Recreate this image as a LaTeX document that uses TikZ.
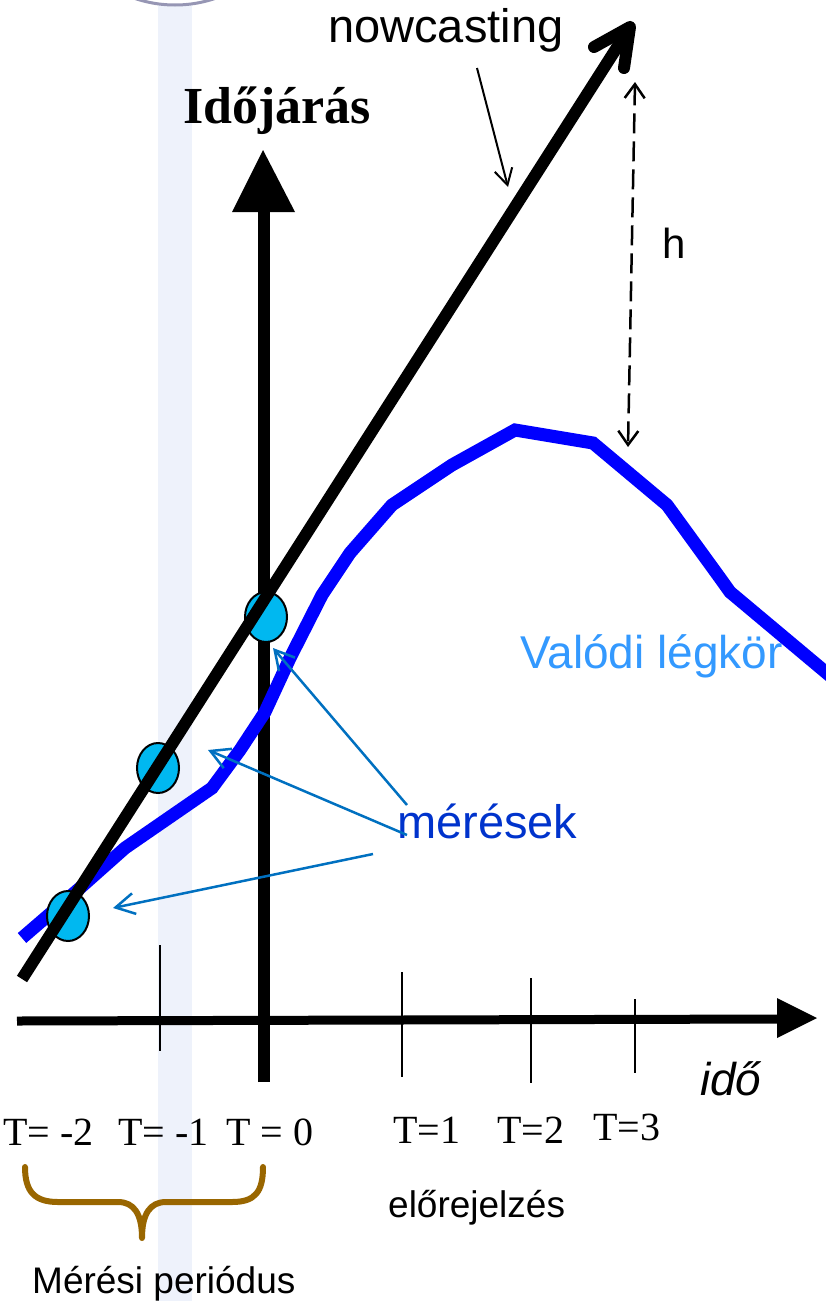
\documentclass[tikz,border=0pt]{standalone}
\usepackage{fontspec}
\setmainfont{Liberation Serif}
\setsansfont{Liberation Sans}
\usetikzlibrary{arrows.meta,shapes.geometric}
\definecolor{stripe}{RGB}{238,242,251}
\definecolor{arcgray}{RGB}{150,150,180}
\definecolor{curveblue}{RGB}{0,0,255}
\definecolor{dotcyan}{RGB}{0,184,240}
\definecolor{arrowblue}{RGB}{0,112,192}
\definecolor{meresblue}{RGB}{0,51,204}
\definecolor{valodiblue}{RGB}{51,153,255}
\definecolor{bracebrown}{RGB}{153,102,0}
\begin{document}
\begin{tikzpicture}[x=1pt,y=-1pt,
  lbl/.style={inner sep=0pt,anchor=base west},
  tlabel/.style={lbl,font=\fontsize{40}{44}\selectfont},
  tick/.style={line width=2pt},
  dotnode/.style={ellipse,draw=black,line width=2pt,fill=dotcyan,minimum width=42pt,minimum height=50pt,inner sep=0pt},
  measarrow/.style={line width=2.5pt,arrowblue,-{Straight Barb[length=19pt,width=21pt]}},
  bigline/.style={line width=12pt,line cap=round,line join=round}]
\useasboundingbox (0,0) rectangle (825,1301);
% background stripe and arc
\fill[stripe] (158,5) rectangle (192,1301);
\begin{scope}
  \clip (0,0) rectangle (825,1301);
  \draw[arcgray,line width=3pt] (175,-120) circle [radius=125pt];
\end{scope}
% ticks
\draw[tick] (160,945) -- (160,1051);
\draw[tick] (402,972) -- (402,1077);
\draw[tick] (531,978) -- (531,1083);
\draw[tick] (635,999) -- (635,1073);
% x axis
\coordinate (xs) at (17,1021);
\coordinate (xe) at (780,1019);
\coordinate (xtip) at (817,1018);
\draw[line width=9pt] (xs) -- (xe);
\fill (xtip) -- (777,1038) -- (777,998) -- cycle;
% y axis
\coordinate (ys) at (264,1082);
\coordinate (ye) at (264,205);
\coordinate (ytip) at (263,150);
\draw[line width=12pt] (ys) -- (ye);
\fill (ytip) -- (295,212) -- (232,212) -- cycle;
% texts under curve
\node[lbl,font=\sffamily\fontsize{46}{50}\selectfont,text=valodiblue] (valodi) at (520,668) {Valódi légkör};
% blue curve
\draw[curveblue,line width=13pt,line join=miter] (22,938) -- (80,888) -- (125,848) -- (212,788) -- (240,750) -- (265,712) -- (290,658) -- (322,595) -- (350,553) -- (392,505) -- (452,465) -- (515,430) -- (593,443) -- (667,505) -- (720,578) -- (730,592) -- (835,680);
% measurement dots
\node[dotnode] (d1) at (266,617) {};
\node[dotnode] (d2) at (158,768) {};
\node[dotnode] (d3) at (68,916) {};
% nowcasting line
\coordinate (ns) at (22,979);
\coordinate (nv) at (630,27);
\coordinate (nb1) at (624,68);
\coordinate (nb2) at (594,47);
\draw[line width=12pt] (ns) -- (nv);
\draw[bigline] (nb1) -- (nv) -- (nb2);
% labels
\node[lbl,font=\sffamily\fontsize{47}{52}\selectfont] (nowc) at (328,42) {nowcasting};
\node[lbl,font=\bfseries\fontsize{52}{56}\selectfont] (idojaras) at (183,123) {Időjárás};
\node[lbl,font=\sffamily\fontsize{42}{46}\selectfont] (h) at (662,258) {h};
\node[lbl,font=\sffamily\fontsize{47}{52}\selectfont,text=meresblue] (meres) at (397,838) {mérések};
\node[lbl,font=\sffamily\itshape\fontsize{46}{50}\selectfont] (ido) at (700,1095) {idő};
\node[tlabel] (tm2) at (3,1145) {T= -2};
\node[tlabel] (tm1) at (118,1145) {T= -1};
\node[tlabel] (t0) at (226,1145) {T = 0};
\node[tlabel] (t1) at (393,1143) {T=1};
\node[tlabel] (t2) at (497,1143) {T=2};
\node[tlabel] (t3) at (593,1140) {T=3};
\node[lbl,font=\sffamily\fontsize{37}{41}\selectfont] (elore) at (388,1217) {előrejelzés};
\node[lbl,font=\sffamily\fontsize{37}{41}\selectfont] (meresiper) at (32,1293) {Mérési periódus};
% nowcasting pointer
\coordinate (np1) at (477,68);
\coordinate (np2) at (508,187);
\draw[line width=2pt,-{Straight Barb[length=16pt,width=18pt]}] (np1) -- (np2);
% h dashed arrow
\coordinate (h1) at (635,82);
\coordinate (h2) at (628,447);
\draw[line width=2.5pt,dash pattern=on 20pt off 8pt,{Straight Barb[length=14pt,width=20pt]}-{Straight Barb[length=14pt,width=20pt]}] (h1) -- (h2);
% measurement arrows
\coordinate (m1s) at (407,805);
\coordinate (m1e) at (273,648);
\coordinate (m2s) at (407,835);
\coordinate (m2e) at (208,750);
\coordinate (m3s) at (373,854);
\coordinate (m3e) at (113,908);
\draw[measarrow] (m1s) -- (m1e);
\draw[measarrow] (m2s) -- (m2e);
\draw[measarrow] (m3s) -- (m3e);
% brace
\draw[bracebrown,line width=6pt,line cap=round,line join=round]
  (25,1167) .. controls (25,1192) and (35,1202) .. (58,1202) -- (118,1202)
  .. controls (134,1202) and (142,1214) .. (142,1238)
  .. controls (142,1214) and (150,1202) .. (166,1202) -- (232,1202)
  .. controls (255,1202) and (263,1192) .. (263,1167);
\end{tikzpicture}
\end{document}
